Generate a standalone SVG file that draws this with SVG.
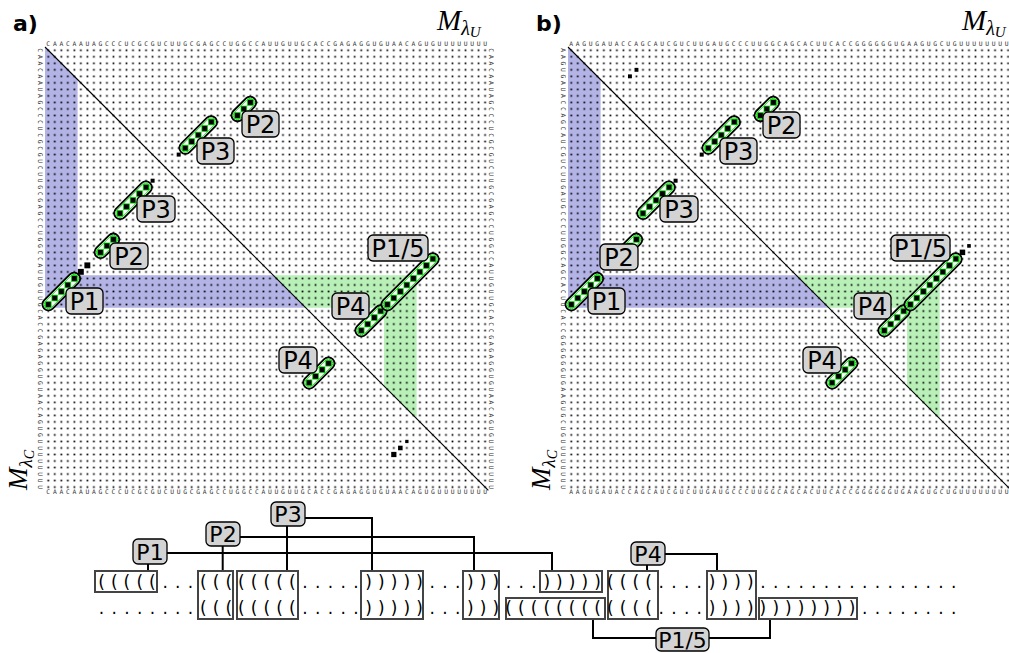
<svg xmlns="http://www.w3.org/2000/svg" width="1009" height="653" viewBox="0 0 1009 653">
<style>
.seq{font-family:"DejaVu Sans Mono",monospace;font-size:6.3px;fill:#333}
.sp{letter-spacing:2.73px}
.lbl{fill:#d3d3d3;stroke:#000;stroke-width:1.3}
.lt{font-family:"DejaVu Sans",sans-serif;font-size:24px;text-anchor:middle;fill:#000}
.lt2{font-family:"DejaVu Sans",sans-serif;font-size:22px;text-anchor:middle;fill:#000}
.pill{fill:#fff;stroke:#000;stroke-width:0.28}
.pin{fill:none;stroke:#00e000;stroke-width:0.14}
.cell{fill:#000;stroke:#00e000;stroke-width:0.12}
.ext{fill:#000}
.blue{fill:#b3b3e6}
.green{fill:#b8f0b8}
.diag{stroke:#000;stroke-width:0.17}
.box{fill:#fff;stroke:#444;stroke-width:2}
.row{font-family:"DejaVu Sans",sans-serif;font-size:17px;text-anchor:middle;fill:#000}
.con{fill:none;stroke:#000;stroke-width:2}
.title{font-family:"DejaVu Sans",sans-serif;font-weight:bold;font-size:22px}
.mth{font-family:"Liberation Serif",serif;font-style:italic;font-size:29px}
.mthv{font-family:"Liberation Serif",serif;font-style:italic;font-size:27px}
</style>
<defs>
<pattern id="dots" patternUnits="userSpaceOnUse" width="1" height="1"><rect x="0.37" y="0.37" width="0.26" height="0.26" fill="#000"/></pattern>
<g id="h3">
<g transform="translate(1.5,-0.5) rotate(-45)"><rect class="pill" x="-2.295" y="-0.925" width="4.59" height="1.85" rx="0.925"/><rect class="pin" x="-2.025" y="-0.655" width="4.05" height="1.31" rx="0.655"/></g>
<rect class="cell" x="0.06" y="0.06" width="0.88" height="0.88"/><rect class="cell" x="1.06" y="-0.94" width="0.88" height="0.88"/><rect class="cell" x="2.06" y="-1.94" width="0.88" height="0.88"/>
</g>
<g id="h4">
<g transform="translate(2,-1) rotate(-45)"><rect class="pill" x="-3.005" y="-0.925" width="6.01" height="1.85" rx="0.925"/><rect class="pin" x="-2.735" y="-0.655" width="5.47" height="1.31" rx="0.655"/></g>
<rect class="cell" x="0.06" y="0.06" width="0.88" height="0.88"/><rect class="cell" x="1.06" y="-0.94" width="0.88" height="0.88"/><rect class="cell" x="2.06" y="-1.94" width="0.88" height="0.88"/><rect class="cell" x="3.06" y="-2.94" width="0.88" height="0.88"/>
</g>
<g id="h5">
<g transform="translate(2.5,-1.5) rotate(-45)"><rect class="pill" x="-3.71" y="-0.925" width="7.42" height="1.85" rx="0.925"/><rect class="pin" x="-3.44" y="-0.655" width="6.88" height="1.31" rx="0.655"/></g>
<rect class="cell" x="0.06" y="0.06" width="0.88" height="0.88"/><rect class="cell" x="1.06" y="-0.94" width="0.88" height="0.88"/><rect class="cell" x="2.06" y="-1.94" width="0.88" height="0.88"/><rect class="cell" x="3.06" y="-2.94" width="0.88" height="0.88"/><rect class="cell" x="4.06" y="-3.94" width="0.88" height="0.88"/>
</g>
<g id="h8">
<g transform="translate(4,-3) rotate(-45)"><rect class="pill" x="-5.83" y="-0.925" width="11.66" height="1.85" rx="0.925"/><rect class="pin" x="-5.56" y="-0.655" width="11.12" height="1.31" rx="0.655"/></g>
<rect class="cell" x="0.06" y="0.06" width="0.88" height="0.88"/><rect class="cell" x="1.06" y="-0.94" width="0.88" height="0.88"/><rect class="cell" x="2.06" y="-1.94" width="0.88" height="0.88"/><rect class="cell" x="3.06" y="-2.94" width="0.88" height="0.88"/><rect class="cell" x="4.06" y="-3.94" width="0.88" height="0.88"/><rect class="cell" x="5.06" y="-4.94" width="0.88" height="0.88"/><rect class="cell" x="6.06" y="-5.94" width="0.88" height="0.88"/><rect class="cell" x="7.06" y="-6.94" width="0.88" height="0.88"/>
</g>
</defs>
<rect width="1009" height="653" fill="#fff"/>

<!-- Panel a -->
<g id="panel-a">
<text class="title" x="13" y="31">a)</text>
<text class="mth" x="437" y="30">M<tspan font-size="20" dy="5">λ</tspan><tspan font-size="15" dy="2">U</tspan></text>
<text class="mthv" transform="translate(27,490) rotate(-90)">M<tspan font-size="19" dy="5">λ</tspan><tspan font-size="14" dy="2">C</tspan></text>
<g id="matrix-a" transform="translate(45,47) scale(6.52)">
<polygon class="blue" points="0,0 5,5 5,35 35,35 40,40 0,40"/>
<polygon class="green" points="35,35 57,35 57,57 52,52 52,40 40,40"/>
<rect width="68" height="68" fill="url(#dots)"/>
<line class="diag" x1="0" y1="0" x2="68" y2="68"/>
<rect class="ext" x="53.1" y="62.1" width="0.8" height="0.8"/>
<rect class="ext" x="54.15" y="61.15" width="0.7" height="0.7"/>
<rect class="ext" x="55.25" y="60.25" width="0.5" height="0.5"/>
</g>
<text class="seq sp" x="46.36" y="46">CAACAAUAGCCCUCGCGUCUUGCGAGCCUGGCCAUUGUUGCACCGAGAGGUGUAACAGUGUUUUUUUU</text>
<text class="seq sp" x="46.36" y="493.5">CAACAAUAGCCCUCGCGUCUUGCGAGCCUGGCCAUUGUUGCACCGAGAGGUGUAACAGUGUUUUUUUU</text>
<text class="seq sp" transform="rotate(90)" x="48.36" y="-38">CAACAAUAGCCCUCGCGUCUUGCGAGCCUGGCCAUUGUUGCACCGAGAGGUGUAACAGUGUUUUUUUU</text>
<text class="seq sp" transform="rotate(90)" x="48.36" y="-489">CAACAAUAGCCCUCGCGUCUUGCGAGCCUGGCCAUUGUUGCACCGAGAGGUGUAACAGUGUUUUUUUU</text>
</g>

<g id="a-P1-low"><use href="#h5" transform="matrix(6.52,0,0,6.52,45,301.28)"/><rect class="ext" x="77.9" y="268.9" width="5.9" height="5.9"/><rect class="ext" x="84.4" y="262.4" width="5.9" height="5.9"/><rect class="lbl" x="66" y="288" width="37" height="26" rx="5"/><text class="lt" x="84.5" y="310">P1</text></g>
<g id="a-P2-low"><use href="#h3" transform="matrix(6.52,0,0,6.52,97.16,249.12)"/><rect class="lbl" x="110" y="243" width="38" height="26" rx="5"/><text class="lt" x="129" y="265">P2</text></g>
<g id="a-P3-low"><use href="#h5" transform="matrix(6.52,0,0,6.52,116.72,210)"/><rect class="ext" x="150.6" y="178.7" width="4" height="4"/><rect class="lbl" x="137" y="196" width="38" height="26" rx="5"/><text class="lt" x="156" y="218">P3</text></g>
<g id="a-P4-low"><use href="#h4" transform="matrix(6.52,0,0,6.52,305.8,379.52)"/><rect class="lbl" x="279" y="347" width="38" height="26" rx="5"/><text class="lt" x="298" y="369">P4</text></g>
<g id="a-P3-up"><use href="#h5" transform="matrix(6.52,0,0,6.52,181.92,144.8)"/><rect class="ext" x="176.7" y="152.6" width="4" height="4"/><rect class="lbl" x="197" y="138" width="37" height="26" rx="5"/><text class="lt" x="215.5" y="160">P3</text></g>
<g id="a-P2-up"><use href="#h3" transform="matrix(6.52,0,0,6.52,234.08,112.2)"/><rect class="lbl" x="242" y="111" width="37" height="26" rx="5"/><text class="lt" x="260.5" y="133">P2</text></g>
<g id="a-P4-up"><use href="#h4" transform="matrix(6.52,0,0,6.52,357.96,327.36)"/><rect class="lbl" x="332" y="293" width="37" height="26" rx="5"/><text class="lt" x="350.5" y="315">P4</text></g>
<g id="a-P15-up"><use href="#h8" transform="matrix(6.52,0,0,6.52,384.04,301.28)"/><rect class="lbl" x="368" y="235" width="60" height="26" rx="5"/><text class="lt" x="398" y="257">P1/5</text></g>

<!-- Panel b -->
<g id="panel-b">
<text class="title" x="536" y="31">b)</text>
<text class="mth" x="962" y="30">M<tspan font-size="20" dy="5">λ</tspan><tspan font-size="15" dy="2">U</tspan></text>
<text class="mthv" transform="translate(550,490) rotate(-90)">M<tspan font-size="19" dy="5">λ</tspan><tspan font-size="14" dy="2">C</tspan></text>
<g id="matrix-b" transform="translate(568,47) scale(6.52)">
<polygon class="blue" points="0,0 5,5 5,35 35,35 40,40 0,40"/>
<polygon class="green" points="35,35 57,35 57,57 52,52 52,40 40,40"/>
<rect width="68" height="68" fill="url(#dots)"/>
<line class="diag" x1="0" y1="0" x2="68" y2="68"/>
<rect class="ext" x="10.2" y="3.2" width="0.6" height="0.6"/>
<rect class="ext" x="9.2" y="4.2" width="0.6" height="0.6"/>
</g>
<text class="seq" x="569.2 575.7 582.2 588.7 595.2 601.7 608.2 614.7 621.2 627.7 634.2 640.7 647.2 653.7 660.2 666.7 673.2 679.7 686.2 692.7 699.2 705.7 712.2 718.7 725.2 731.7 738.2 744.7 751.2 757.7 764.2 770.7 777.2 783.7 790.2 796.7 803.2 809.7 816.2 822.7 829.2 835.7 842.2 848.7 855.2 861.7 868.2 874.7 881.2 887.7 894.2 900.7 907.2 913.7 920.2 926.7 933.2 939.7 946.2 952.7 959.2 965.7 972.2 978.7 985.2 991.7 998.2 1004.7" y="46">AAGUGAUACCAGCAUCGUCUUGAUGCCCUUGGCAGCACUUCACCGGGGGGUGAAGUGCUGUUUUUUUU</text>
<text class="seq" x="569.2 575.7 582.2 588.7 595.2 601.7 608.2 614.7 621.2 627.7 634.2 640.7 647.2 653.7 660.2 666.7 673.2 679.7 686.2 692.7 699.2 705.7 712.2 718.7 725.2 731.7 738.2 744.7 751.2 757.7 764.2 770.7 777.2 783.7 790.2 796.7 803.2 809.7 816.2 822.7 829.2 835.7 842.2 848.7 855.2 861.7 868.2 874.7 881.2 887.7 894.2 900.7 907.2 913.7 920.2 926.7 933.2 939.7 946.2 952.7 959.2 965.7 972.2 978.7 985.2 991.7 998.2 1004.7" y="493.5">AAGUGAUACCAGCAUCGUCUUGAUGCCCUUGGCAGCACUUCACCGGGGGGUGAAGUGCUGUUUUUUUU</text>
<text class="seq sp" transform="rotate(90)" x="48.36" y="-561">AAGUGAUACCAGCAUCGUCUUGAUGCCCUUGGCAGCACUUCACCGGGGGGUGAAGUGCUGUUUUUUUU</text>
</g>

<g id="b-P1-low"><use href="#h5" transform="matrix(6.52,0,0,6.52,568,301.28)"/><rect class="lbl" x="588" y="288" width="37" height="26" rx="5"/><text class="lt" x="606.5" y="310">P1</text></g>
<g id="b-P2-low"><use href="#h3" transform="matrix(6.52,0,0,6.52,620.16,249.12)"/><rect class="lbl" x="600" y="244" width="38" height="26" rx="5"/><text class="lt" x="619" y="266">P2</text></g>
<g id="b-P3-low"><use href="#h5" transform="matrix(6.52,0,0,6.52,639.72,210)"/><rect class="ext" x="673.6" y="178.7" width="4" height="4"/><rect class="lbl" x="660" y="196" width="38" height="26" rx="5"/><text class="lt" x="679" y="218">P3</text></g>
<g id="b-P4-low"><use href="#h4" transform="matrix(6.52,0,0,6.52,828.8,379.52)"/><rect class="lbl" x="803" y="347" width="38" height="26" rx="5"/><text class="lt" x="822" y="369">P4</text></g>
<g id="b-P3-up"><use href="#h5" transform="matrix(6.52,0,0,6.52,704.92,144.8)"/><rect class="ext" x="699.7" y="152.6" width="4" height="4"/><rect class="lbl" x="720" y="138" width="37" height="26" rx="5"/><text class="lt" x="738.5" y="160">P3</text></g>
<g id="b-P2-up"><use href="#h3" transform="matrix(6.52,0,0,6.52,757.08,112.2)"/><rect class="lbl" x="763" y="112" width="37" height="26" rx="5"/><text class="lt" x="781.5" y="134">P2</text></g>
<g id="b-P4-up"><use href="#h4" transform="matrix(6.52,0,0,6.52,880.96,327.36)"/><rect class="lbl" x="854" y="293" width="37" height="26" rx="5"/><text class="lt" x="872.5" y="315">P4</text></g>
<g id="b-P15-up"><use href="#h8" transform="matrix(6.52,0,0,6.52,907.04,301.28)"/><rect class="ext" x="959.7" y="249.6" width="5.5" height="5.5"/><rect class="ext" x="967.2" y="244.1" width="3.6" height="3.6"/><rect class="lbl" x="891" y="235" width="59" height="26" rx="5"/><text class="lt" x="920.5" y="257">P1/5</text></g>

<!-- Arc diagram -->
<g id="connectors">
<path class="con" d="M148,564V571M167,553H552V571"/>
<path class="con" d="M222.7,546V571M240,537H474V571"/>
<path class="con" d="M287,526V571M305,518H372V571"/>
<path class="con" d="M647,565V571M665,554H717V571"/>
<path class="con" d="M593,619V638H656M709,638H770V619"/>
</g>
<g id="seg-boxes">
<rect id="s0" class="box" x="95" y="571" width="62" height="21"/>
<rect id="s8" class="box" x="198" y="571" width="35" height="48"/>
<rect id="s11" class="box" x="237" y="571" width="61" height="48"/>
<rect id="s21" class="box" x="361" y="571" width="62" height="48"/>
<rect id="s29" class="box" x="463" y="571" width="36" height="48"/>
<rect id="s35" class="box" x="540" y="571" width="62" height="21"/>
<rect id="s32b" class="box" x="506" y="598" width="99" height="21"/>
<rect id="s40" class="box" x="608" y="571" width="50" height="48"/>
<rect id="s48" class="box" x="707" y="571" width="49" height="48"/>
<rect id="s52b" class="box" x="759" y="598" width="98" height="21"/>
</g>
<g id="dot-bracket">
<text class="row" y="588" x="101.5 114.2 126.9 139.7 152.4 165.1 177.8 190.5 203.3 216.0 228.7 241.4 254.1 266.9 279.6 292.3 305.0 317.7 330.5 343.2 355.9 368.6 381.3 394.1 406.8 419.5 432.2 444.9 457.7 470.4 483.1 495.8 508.5 521.3 534.0 546.7 559.4 572.1 584.9 597.6 610.3 623.0 635.7 648.5 661.2 673.9 686.6 699.3 712.1 724.8 737.5 750.2 762.9 775.7 788.4 801.1 813.8 826.5 839.3 852.0 864.7 877.4 890.1 902.9 915.6 928.3 941.0 953.7">(((((...((((((((.....)))))...)))...)))))((((....))))................</text>
<text class="row" y="613.5" x="101.5 114.2 126.9 139.7 152.4 165.1 177.8 190.5 203.3 216.0 228.7 241.4 254.1 266.9 279.6 292.3 305.0 317.7 330.5 343.2 355.9 368.6 381.3 394.1 406.8 419.5 432.2 444.9 457.7 470.4 483.1 495.8 508.5 521.3 534.0 546.7 559.4 572.1 584.9 597.6 610.3 623.0 635.7 648.5 661.2 673.9 686.6 699.3 712.1 724.8 737.5 750.2 762.9 775.7 788.4 801.1 813.8 826.5 839.3 852.0 864.7 877.4 890.1 902.9 915.6 928.3 941.0 953.7">........((((((((.....)))))...)))((((((((((((....))))))))))))........</text>
</g>
<g id="arc-P1"><rect class="lbl" x="133" y="539" width="34" height="25" rx="5"/><text class="lt2" x="150" y="559.5">P1</text></g>
<g id="arc-P2"><rect class="lbl" x="206" y="522" width="34" height="24" rx="5"/><text class="lt2" x="223" y="542">P2</text></g>
<g id="arc-P3"><rect class="lbl" x="271" y="502" width="34" height="24" rx="5"/><text class="lt2" x="288" y="522">P3</text></g>
<g id="arc-P4"><rect class="lbl" x="631" y="542" width="34" height="23" rx="5"/><text class="lt2" x="648" y="561.5">P4</text></g>
<g id="arc-P15"><rect class="lbl" x="656" y="628" width="53" height="23" rx="5"/><text class="lt2" x="682.5" y="647.5">P1/5</text></g>
</svg>
